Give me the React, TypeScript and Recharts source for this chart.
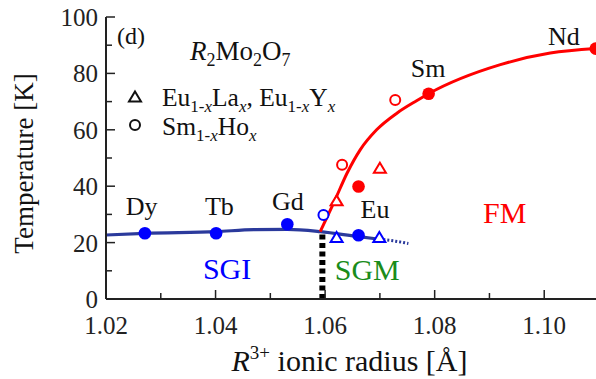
import React from 'react';
import { ComposedChart, XAxis, YAxis, Line, Scatter } from 'recharts';

const FONT = '"Liberation Serif", "DejaVu Serif", "Liberation Sans", Arial, sans-serif';
const AXIS = '#222';
const BLUE = '#0000ff';
const NAVY = '#2b3a9c';
const RED = '#ff0000';
const GREEN = '#1a8c1a';

// axis ticks
const xTicks = [1.02, 1.03, 1.04, 1.05, 1.06, 1.07, 1.08, 1.09, 1.1, 1.11];
const yTicks = [0, 10, 20, 30, 40, 50, 60, 70, 80, 90, 100];

// filled circles (R2Mo2O7 parents)
const blueFilled = [
  { x: 1.0271, y: 23.3 }, // Dy
  { x: 1.0401, y: 23.3 }, // Tb
  { x: 1.0531, y: 26.5 }, // Gd
  { x: 1.0661, y: 22.6 }, // Eu
];
const redFilled = [
  { x: 1.0661, y: 39.9 }, // Eu
  { x: 1.0789, y: 72.8 }, // Sm
  { x: 1.1094, y: 88.8 }, // Nd
];
// open circles (Sm1-xHox)
const blueOpenCircles = [{ x: 1.0597, y: 29.8 }];
const redOpenCircles = [
  { x: 1.0631, y: 47.6 },
  { x: 1.0728, y: 70.6 },
];
// open triangles (Eu1-xLax, Eu1-xYx)
const blueOpenTriangles = [
  { x: 1.0621, y: 21.8 },
  { x: 1.0699, y: 21.8 },
];
const redOpenTriangles = [
  { x: 1.0621, y: 34.8 },
  { x: 1.07, y: 46.4 },
];

// phase boundaries
const sgCurve = [
  { x: 1.02, y: 22.7 },
  { x: 1.0271, y: 23.3 },
  { x: 1.0401, y: 23.9 },
  { x: 1.047, y: 24.6 },
  { x: 1.0531, y: 24.7 },
  { x: 1.0591, y: 23.9 },
  { x: 1.0658, y: 22.2 },
  { x: 1.0699, y: 21.2 },
];
const sgDotted = [
  { x: 1.0699, y: 21.2 },
  { x: 1.0725, y: 20.6 },
  { x: 1.0752, y: 19.7 },
];
const fmCurve = [
  { x: 1.0591, y: 23.9 },
  { x: 1.0618, y: 35.1 },
  { x: 1.064, y: 44.6 },
  { x: 1.0664, y: 52.9 },
  { x: 1.0694, y: 60.0 },
  { x: 1.0731, y: 65.9 },
  { x: 1.0767, y: 70.3 },
  { x: 1.0789, y: 72.8 },
  { x: 1.092, y: 83.1 },
  { x: 1.1011, y: 87.2 },
  { x: 1.1094, y: 88.8 },
];
const sgmBoundary = [
  { x: 1.0595, y: 0 },
  { x: 1.0595, y: 23.9 },
];

// text labels anchored in data units
const elementLabels = [
  { text: 'Dy', x: 1.0265, y: 29.8 },
  { text: 'Tb', x: 1.0407, y: 29.8 },
  { text: 'Gd', x: 1.0532, y: 31.6 },
  { text: 'Eu', x: 1.0691, y: 28.8 },
  { text: 'Sm', x: 1.0788, y: 78.8 },
  { text: 'Nd', x: 1.1036, y: 90.2 },
];
const phaseLabels = [
  { text: 'SGI', x: 1.0421, y: 7.1 },
  { text: 'SGM', x: 1.0677, y: 6.7 },
  { text: 'FM', x: 1.0928, y: 27.0 },
];
const phaseColors: Record<string, string> = { SGI: BLUE, SGM: GREEN, FM: RED };

const isMajorX = (v: number) => Math.round(v * 100) % 2 === 0;
const isMajorY = (v: number) => Math.round(v) % 20 === 0;
const TXT = { fontFamily: FONT } as React.CSSProperties;

const BottomTick = (p: any) => {
  const { x, y, payload } = p;
  const major = isMajorX(payload.value);
  return (
    <g>
      <line x1={x} y1={y} x2={x} y2={y - (major ? 9 : 6)} stroke={AXIS} strokeWidth={1.5} />
      {major && (
        <text x={x} y={y + 35} textAnchor="middle" fontSize={25} style={TXT} fill={AXIS}>
          {payload.value.toFixed(2)}
        </text>
      )}
    </g>
  );
};
const TopTick = (p: any) => {
  const { x, y, payload } = p;
  const major = isMajorX(payload.value);
  return <line x1={x} y1={y} x2={x} y2={y + (major ? 9 : 6)} stroke={AXIS} strokeWidth={1.5} />;
};
const LeftTick = (p: any) => {
  const { x, y, payload } = p;
  const major = isMajorY(payload.value);
  return (
    <g>
      <line x1={x} y1={y} x2={x + (major ? 9 : 6)} y2={y} stroke={AXIS} strokeWidth={1.5} />
      {major && (
        <text x={x - 8} y={y + 9} textAnchor="end" fontSize={25} style={TXT} fill={AXIS}>
          {String(payload.value)}
        </text>
      )}
    </g>
  );
};
const RightTick = (p: any) => {
  const { x, y, payload } = p;
  const major = isMajorY(payload.value);
  return <line x1={x} y1={y} x2={x - (major ? 9 : 6)} y2={y} stroke={AXIS} strokeWidth={1.5} />;
};

const filledCircle = (color: string) => (p: any) => <circle cx={p.cx} cy={p.cy} r={6.3} fill={color} />;
const openCircle = (color: string) => (p: any) => (
  <circle cx={p.cx} cy={p.cy} r={5} fill="#fff" stroke={color} strokeWidth={2} />
);
const openTriangle = (color: string) => (p: any) => (
  <path
    d={`M${p.cx},${p.cy - 5.5} L${p.cx + 6},${p.cy + 4.5} L${p.cx - 6},${p.cy + 4.5} Z`}
    fill="#fff"
    stroke={color}
    strokeWidth={2}
  />
);
const elementText = (p: any) => (
  <text x={p.cx} y={p.cy} textAnchor="middle" fontSize={26} style={TXT} fill="#111">
    {p.payload.text}
  </text>
);
const phaseText = (p: any) => (
  <text x={p.cx} y={p.cy} textAnchor="middle" fontSize={30} style={TXT} fill={phaseColors[p.payload.text]}>
    {p.payload.text}
  </text>
);

export default function App() {
  return (
    <div
      style={{
        position: 'absolute',
        left: 8,
        top: 8,
        width: 588,
        height: 371,
        overflow: 'hidden',
        fontFamily: FONT,
      }}
    >
      <ComposedChart width={600} height={371} margin={{ top: 9, right: 9, left: 0, bottom: 0 }}>
        <XAxis
          xAxisId={0}
          dataKey="x"
          type="number"
          domain={[1.02, 1.11]}
          ticks={xTicks}
          interval={0}
          allowDataOverflow
          height={80}
          tickSize={0}
          tickMargin={0}
          tickLine={false}
          tick={<BottomTick />}
          axisLine={{ stroke: AXIS, strokeWidth: 2 }}
        />
        <XAxis
          xAxisId="top"
          orientation="top"
          dataKey="x"
          type="number"
          domain={[1.02, 1.11]}
          ticks={xTicks}
          interval={0}
          allowDataOverflow
          height={0}
          tickSize={0}
          tickMargin={0}
          tickLine={false}
          tick={<TopTick />}
          axisLine={{ stroke: AXIS, strokeWidth: 2 }}
        />
        <YAxis
          yAxisId={0}
          dataKey="y"
          type="number"
          domain={[0, 100]}
          ticks={yTicks}
          interval={0}
          allowDataOverflow
          width={98}
          tickSize={0}
          tickMargin={0}
          tickLine={false}
          tick={<LeftTick />}
          axisLine={{ stroke: AXIS, strokeWidth: 2 }}
        />
        <YAxis
          yAxisId="right"
          orientation="right"
          dataKey="y"
          type="number"
          domain={[0, 100]}
          ticks={yTicks}
          interval={0}
          allowDataOverflow
          width={0}
          tickSize={0}
          tickMargin={0}
          tickLine={false}
          tick={<RightTick />}
          axisLine={{ stroke: AXIS, strokeWidth: 2 }}
        />

        <Line data={sgmBoundary} dataKey="y" type="linear" stroke="#000" strokeWidth={6} strokeDasharray="5 3.5" dot={false} isAnimationActive={false} />
        <Line data={sgCurve} dataKey="y" type="monotone" stroke={NAVY} strokeWidth={3.2} dot={false} isAnimationActive={false} />
        <Line data={sgDotted} dataKey="y" type="monotone" stroke={NAVY} strokeWidth={3} strokeDasharray="2 2" dot={false} isAnimationActive={false} />
        <Line data={fmCurve} dataKey="y" type="monotone" stroke={RED} strokeWidth={3} dot={false} isAnimationActive={false} />

        <Scatter data={blueFilled} dataKey="y" shape={filledCircle(BLUE)} isAnimationActive={false} />
        <Scatter data={redFilled} dataKey="y" shape={filledCircle(RED)} isAnimationActive={false} />
        <Scatter data={blueOpenCircles} dataKey="y" shape={openCircle(BLUE)} isAnimationActive={false} />
        <Scatter data={redOpenCircles} dataKey="y" shape={openCircle(RED)} isAnimationActive={false} />
        <Scatter data={blueOpenTriangles} dataKey="y" shape={openTriangle(BLUE)} isAnimationActive={false} />
        <Scatter data={redOpenTriangles} dataKey="y" shape={openTriangle(RED)} isAnimationActive={false} />

        <Scatter data={elementLabels} dataKey="y" shape={elementText} isAnimationActive={false} />
        <Scatter data={phaseLabels} dataKey="y" shape={phaseText} isAnimationActive={false} />
      </ComposedChart>

      <svg
        width={588}
        height={371}
        style={{ position: 'absolute', left: 0, top: 0, pointerEvents: 'none', whiteSpace: 'pre', fontFamily: FONT }}
        fill="#111"
      >
        <text x={109} y={36} fontSize={24} style={TXT}>(d)</text>
        <text x={182} y={52} fontSize={27} style={TXT}>
          <tspan fontStyle="italic">R</tspan>
          <tspan fontSize={18} dy={6}>2</tspan>
          <tspan dy={-6}>Mo</tspan>
          <tspan fontSize={18} dy={6}>2</tspan>
          <tspan dy={-6}>O</tspan>
          <tspan fontSize={18} dy={6}>7</tspan>
        </text>

        <path d="M127,83.5 L133,93.5 L121,93.5 Z" fill="#fff" stroke="#111" strokeWidth={2} />
        <text x={154} y={98} fontSize={25.5} style={TXT}>
          <tspan>Eu</tspan>
          <tspan fontSize={17} dy={6}>1-</tspan>
          <tspan fontSize={17} fontStyle="italic">x</tspan>
          <tspan dy={-6}>La</tspan>
          <tspan fontSize={17} fontStyle="italic" dy={6}>x</tspan>
          <tspan dy={-6}>, Eu</tspan>
          <tspan fontSize={17} dy={6}>1-</tspan>
          <tspan fontSize={17} fontStyle="italic">x</tspan>
          <tspan dy={-6}>Y</tspan>
          <tspan fontSize={17} fontStyle="italic" dy={6}>x</tspan>
        </text>
        <circle cx={127} cy={117} r={5} fill="#fff" stroke="#111" strokeWidth={2} />
        <text x={154} y={127} fontSize={25.5} style={TXT}>
          <tspan>Sm</tspan>
          <tspan fontSize={17} dy={6}>1-</tspan>
          <tspan fontSize={17} fontStyle="italic">x</tspan>
          <tspan dy={-6}>Ho</tspan>
          <tspan fontSize={17} fontStyle="italic" dy={6}>x</tspan>
        </text>

        <text x={25} y={155.5} fontSize={27} textAnchor="middle" transform="rotate(-90 25 155.5)" style={TXT}>
          Temperature [K]
        </text>
        <text x={341.5} y={363} fontSize={30} textAnchor="middle" style={TXT}>
          <tspan fontStyle="italic">R</tspan>
          <tspan fontSize={19} dy={-12}>3+</tspan>
          <tspan dy={12}> ionic radius [Å]</tspan>
        </text>
      </svg>
    </div>
  );
}
